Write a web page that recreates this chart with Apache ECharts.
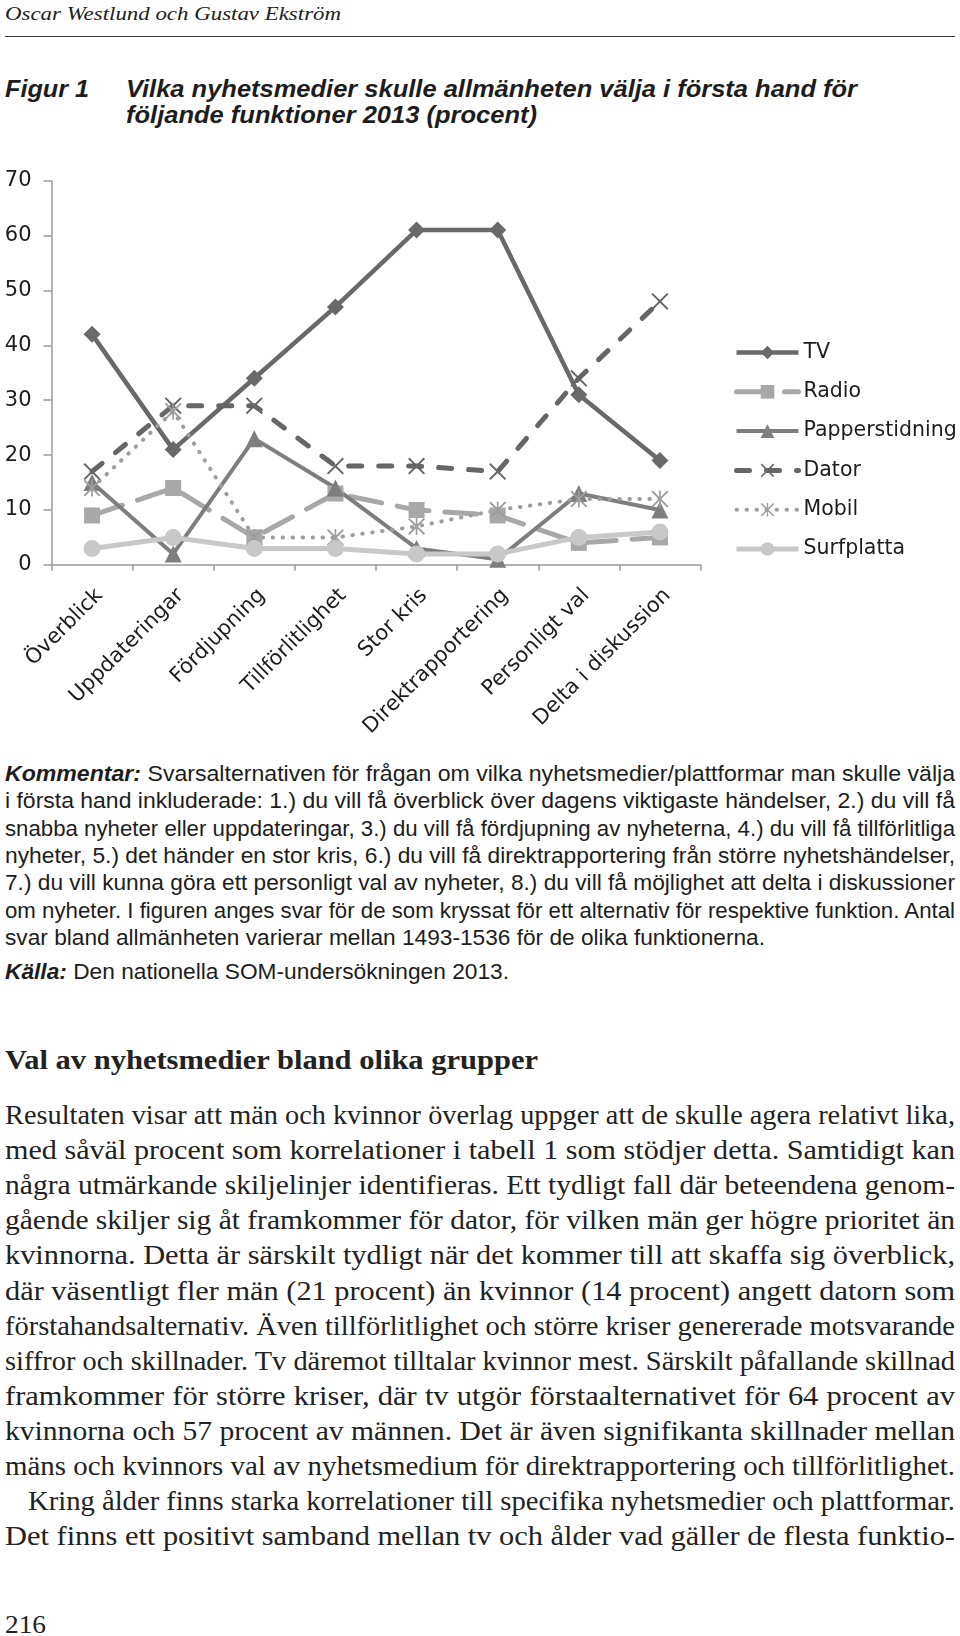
<!DOCTYPE html>
<html><head><meta charset="utf-8">
<script src="https://cdn.jsdelivr.net/npm/echarts@6/dist/echarts.min.js"></script>
<style>
html,body{margin:0;padding:0;background:#fff;}
body{width:960px;height:1636px;position:relative;overflow:hidden;}
.ln{position:absolute;white-space:nowrap;transform-origin:0 50%;color:#1d1d1d;display:inline-block;}
.sans{font-family:"Liberation Sans",Arial,sans-serif;}
.serif{font-family:"Liberation Serif","Times New Roman",serif;color:#222;}
#chart{position:absolute;left:0;top:140px;width:960px;height:600px;}
#rule{position:absolute;left:5px;top:35.5px;width:950px;height:1.5px;background:#3a3a3a;}
</style></head>
<body>
<div id="chart"></div>

<div class="ln serif" style="left:5px;top:1.7px;font-size:19.5px;line-height:24px;font-style:italic" data-w="336">Oscar Westlund och Gustav Ekström</div>
<div id="rule"></div>

<div class="ln sans" style="left:5px;top:74.7px;font-size:24px;line-height:28px;font-weight:bold;font-style:italic" data-w="84">Figur 1</div>
<div class="ln sans" style="left:126px;top:74.7px;font-size:24px;line-height:28px;font-weight:bold;font-style:italic" data-w="731">Vilka nyhetsmedier skulle allmänheten välja i första hand för</div>
<div class="ln sans" style="left:126px;top:100.7px;font-size:24px;line-height:28px;font-weight:bold;font-style:italic" data-w="411">följande funktioner 2013 (procent)</div>

<div class="ln sans" style="left:5px;top:762px;font-size:21.5px;line-height:24px" data-w="950" data-j="1" data-s="1.14"><b><i>Kommentar:</i></b> Svarsalternativen för frågan om vilka nyhetsmedier/plattformar man skulle välja</div>
<div class="ln sans" style="left:5px;top:789.3px;font-size:21.5px;line-height:24px" data-w="950" data-j="1" data-s="1.14">i första hand inkluderade: 1.) du vill få överblick över dagens viktigaste händelser, 2.) du vill få</div>
<div class="ln sans" style="left:5px;top:816.7px;font-size:21.5px;line-height:24px" data-w="950" data-j="1" data-s="1.14">snabba nyheter eller uppdateringar, 3.) du vill få fördjupning av nyheterna, 4.) du vill få tillförlitliga</div>
<div class="ln sans" style="left:5px;top:844px;font-size:21.5px;line-height:24px" data-w="950" data-j="1" data-s="1.14">nyheter, 5.) det händer en stor kris, 6.) du vill få direktrapportering från större nyhetshändelser,</div>
<div class="ln sans" style="left:5px;top:871.3px;font-size:21.5px;line-height:24px" data-w="950" data-j="1" data-s="1.14">7.) du vill kunna göra ett personligt val av nyheter, 8.) du vill få möjlighet att delta i diskussioner</div>
<div class="ln sans" style="left:5px;top:898.7px;font-size:21.5px;line-height:24px" data-w="950" data-j="1" data-s="1.14">om nyheter. I figuren anges svar för de som kryssat för ett alternativ för respektive funktion. Antal</div>
<div class="ln sans" style="left:5px;top:926px;font-size:21.5px;line-height:24px" data-w="760">svar bland allmänheten varierar mellan 1493-1536 för de olika funktionerna.</div>
<div class="ln sans" style="left:5px;top:960px;font-size:21.5px;line-height:24px" data-w="504"><b><i>Källa:</i></b> Den nationella SOM-undersökningen 2013.</div>

<div class="ln serif" style="left:5px;top:1043.5px;font-size:27px;line-height:32px;font-weight:bold" data-w="533">Val av nyhetsmedier bland olika grupper</div>

<div class="ln serif" style="left:5px;top:1100px;font-size:26.5px;line-height:30px" data-w="950" data-j="1" data-s="1.15">Resultaten visar att män och kvinnor överlag uppger att de skulle agera relativt lika,</div>
<div class="ln serif" style="left:5px;top:1135.1px;font-size:26.5px;line-height:30px" data-w="950" data-j="1" data-s="1.15">med såväl procent som korrelationer i tabell 1 som stödjer detta. Samtidigt kan</div>
<div class="ln serif" style="left:5px;top:1170.2px;font-size:26.5px;line-height:30px" data-w="950" data-j="1" data-s="1.15">några utmärkande skiljelinjer identifieras. Ett tydligt fall där beteendena genom-</div>
<div class="ln serif" style="left:5px;top:1205.3px;font-size:26.5px;line-height:30px" data-w="950" data-j="1" data-s="1.15">gående skiljer sig åt framkommer för dator, för vilken män ger högre prioritet än</div>
<div class="ln serif" style="left:5px;top:1240.4px;font-size:26.5px;line-height:30px" data-w="950" data-j="1" data-s="1.15">kvinnorna. Detta är särskilt tydligt när det kommer till att skaffa sig överblick,</div>
<div class="ln serif" style="left:5px;top:1275.5px;font-size:26.5px;line-height:30px" data-w="950" data-j="1" data-s="1.15">där väsentligt fler män (21 procent) än kvinnor (14 procent) angett datorn som</div>
<div class="ln serif" style="left:5px;top:1310.6px;font-size:26.5px;line-height:30px" data-w="950" data-j="1" data-s="1.15">förstahandsalternativ. Även tillförlitlighet och större kriser genererade motsvarande</div>
<div class="ln serif" style="left:5px;top:1345.7px;font-size:26.5px;line-height:30px" data-w="950" data-j="1" data-s="1.15">siffror och skillnader. Tv däremot tilltalar kvinnor mest. Särskilt påfallande skillnad</div>
<div class="ln serif" style="left:5px;top:1380.8px;font-size:26.5px;line-height:30px" data-w="950" data-j="1" data-s="1.15">framkommer för större kriser, där tv utgör förstaalternativet för 64 procent av</div>
<div class="ln serif" style="left:5px;top:1415.9px;font-size:26.5px;line-height:30px" data-w="950" data-j="1" data-s="1.15">kvinnorna och 57 procent av männen. Det är även signifikanta skillnader mellan</div>
<div class="ln serif" style="left:5px;top:1451px;font-size:26.5px;line-height:30px" data-w="950" data-j="1" data-s="1.15">mäns och kvinnors val av nyhetsmedium för direktrapportering och tillförlitlighet.</div>
<div class="ln serif" style="left:28px;top:1486.1px;font-size:26.5px;line-height:30px" data-w="927" data-j="1" data-s="1.15">Kring ålder finns starka korrelationer till specifika nyhetsmedier och plattformar.</div>
<div class="ln serif" style="left:5px;top:1521.2px;font-size:26.5px;line-height:30px" data-w="950" data-j="1" data-s="1.15">Det finns ett positivt samband mellan tv och ålder vad gäller de flesta funktio-</div>

<div class="ln serif" style="left:5px;top:1610px;font-size:26px;line-height:30px" data-w="41">216</div>

<script>
// ---- chart data ----
const categories = ['Överblick', 'Uppdateringar', 'Fördjupning', 'Tillförlitlighet', 'Stor kris', 'Direktrapportering', 'Personligt val', 'Delta i diskussion'];
const seriesNames = ['TV', 'Radio', 'Papperstidning', 'Dator', 'Mobil', 'Surfplatta'];
const tvValues = [42, 21, 34, 47, 61, 61, 31, 19];
const radioValues = [9, 14, 5, 13, 10, 9, 4, 5];
const papperValues = [15, 2, 23, 14, 3, 1, 13, 10];
const datorValues = [17, 29, 29, 18, 18, 17, 34, 48];
const mobilValues = [14, 28, 5, 5, 7, 10, 12, 12];
const surfValues = [3, 5, 3, 3, 2, 2, 5, 6];
const yMin = 0, yMax = 70, yStep = 10;

// ---- text line fitting (page typography) ----
document.querySelectorAll('.ln').forEach(function (el) {
  const target = +el.dataset.w;
  const just = el.dataset.j === '1';
  const base = el.dataset.s ? +el.dataset.s : 1;
  const w0 = el.getBoundingClientRect().width;
  let s, ws = 0;
  if (just) {
    s = Math.min(base, target / w0);
    const spaces = (el.textContent.match(/ /g) || []).length;
    const extra = target / s - w0;
    if (spaces > 0 && extra > 0) ws = extra / spaces;
  } else {
    s = target / w0;
  }
  if (ws) el.style.wordSpacing = ws + 'px';
  el.style.transform = 'scaleX(' + s + ')';
});

// ---- chart ----
const FONT = '"DejaVu Sans", sans-serif';
const AX = '#9b9b9b';
const xMarker = 'path://M0,8L8,0L50,42L92,0L100,8L58,50L100,92L92,100L50,58L8,100L0,92L42,50Z';
const starMarker = xMarker + 'M45,0L55,0L55,100L45,100Z';

function mk(name, data, color, width, type, symbol, size) {
  return {
    name: name, type: 'line', data: data,
    symbol: symbol, symbolSize: size, showSymbol: true, showAllSymbol: true,
    itemStyle: { color: color },
    lineStyle: { color: color, width: width, type: type, cap: type === 'solid' ? 'butt' : 'round' },
    emphasis: { disabled: true },
    animation: false
  };
}

const chart = echarts.init(document.getElementById('chart'));
chart.setOption({
  animation: false,
  grid: { left: 51.5, top: 40.7, width: 649, height: 387.6, containLabel: false },
  legend: {
    orient: 'vertical', left: 734, top: 202, padding: 0,
    itemWidth: 62, itemHeight: 17, itemGap: 18.3,
    data: seriesNames,
    lineStyle: { width: 'inherit' },
    textStyle: { fontFamily: FONT, fontSize: 20.5, color: '#1d1d1d', lineHeight: 17 },
    selectedMode: false
  },
  xAxis: {
    type: 'category', data: categories, boundaryGap: true,
    axisLine: { lineStyle: { color: AX, width: 1.5 } },
    axisTick: { show: true, length: 6, interval: 0, lineStyle: { color: AX, width: 1.5 } },
    axisLabel: { rotate: 45, interval: 0, margin: 20, verticalAlign: 'top', fontFamily: FONT, fontSize: 21, color: '#1d1d1d' },
    splitLine: { show: false }
  },
  yAxis: {
    type: 'value', min: yMin, max: yMax, interval: yStep,
    axisLine: { show: true, lineStyle: { color: AX, width: 1.5 } },
    axisTick: { show: true, length: 8, lineStyle: { color: AX, width: 1.5 } },
    axisLabel: { margin: 20, fontFamily: FONT, fontSize: 21, color: '#1d1d1d' },
    splitLine: { show: false }
  },
  series: [
    mk(seriesNames[0], tvValues, '#69696b', 4.5, 'solid', 'diamond', 17),
    mk(seriesNames[1], radioValues, '#a8a8a8', 5, [32, 16], 'rect', 16),
    mk(seriesNames[2], papperValues, '#7e7e7e', 4, 'solid', 'triangle', 17),
    mk(seriesNames[3], datorValues, '#666666', 5, [13, 17], xMarker, 17),
    mk(seriesNames[4], mobilValues, '#9e9e9e', 4, [0.5, 9.5], starMarker, 17),
    mk(seriesNames[5], surfValues, '#c8c8c8', 5, 'solid', 'circle', 17)
  ]
});
</script>
</body></html>
